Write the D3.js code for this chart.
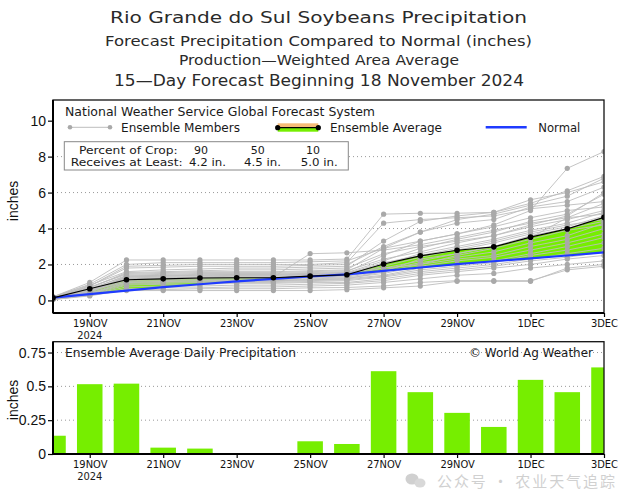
<!DOCTYPE html>
<html><head><meta charset="utf-8">
<script src="https://cdn.jsdelivr.net/npm/d3@7"></script>
<style>body{margin:0;background:#fff}</style>
</head><body>
<svg id="c" width="635" height="491" xmlns="http://www.w3.org/2000/svg"></svg>
<script>
// ---------------- DATA ----------------
const days = ["2024-11-18","2024-11-19","2024-11-20","2024-11-21","2024-11-22","2024-11-23","2024-11-24","2024-11-25",
  "2024-11-26","2024-11-27","2024-11-28","2024-11-29","2024-11-30","2024-12-01","2024-12-02","2024-12-03"];
const ensembleAvg = [0.14,0.65,1.15,1.20,1.25,1.26,1.26,1.35,1.43,2.03,2.48,2.79,2.98,3.52,3.98,4.62];
const normal = [0.15,0.35,0.55,0.74,0.90,1.06,1.20,1.33,1.45,1.64,1.83,2.02,2.18,2.34,2.50,2.67];
const dailyAvg = [0.135,0.516,0.52,0.047,0.04,0.005,0.005,0.094,0.074,0.612,0.457,0.304,0.20,0.548,0.457,0.64];
const members = [
  [0.20,1.00,2.25,2.25,2.25,2.25,2.25,2.25,2.30,4.80,4.85,4.85,4.90,5.40,6.10,6.90],
  [0.20,0.90,2.00,2.10,2.10,2.10,2.10,2.15,2.20,2.90,3.30,3.70,4.20,5.00,7.35,8.28],
  [0.15,0.80,1.90,1.95,2.00,2.00,2.00,2.00,2.10,4.30,4.50,4.60,4.70,5.10,5.30,5.50],
  [0.20,0.85,1.60,1.70,1.75,1.80,1.80,1.85,1.90,3.30,4.40,4.70,4.90,5.60,6.00,6.60],
  [0.15,0.70,1.50,1.55,1.60,1.60,1.60,1.65,1.70,2.90,3.80,4.30,4.50,5.20,5.50,6.30],
  [0.10,0.60,1.40,1.45,1.50,1.50,1.50,1.55,1.60,2.50,3.30,3.70,4.10,4.60,5.00,5.20],
  [0.15,0.65,1.35,1.40,1.40,1.45,1.45,1.50,1.55,2.20,2.90,3.40,3.80,4.40,4.80,5.90],
  [0.10,0.55,1.30,1.35,1.40,1.40,1.40,1.45,1.50,2.00,2.60,3.00,3.40,3.90,4.30,4.90],
  [0.12,0.50,1.25,1.30,1.30,1.35,1.35,1.40,1.45,1.90,2.40,2.80,3.20,3.70,4.10,4.70],
  [0.12,0.60,1.20,1.25,1.30,1.30,1.30,1.35,1.40,1.80,2.20,2.60,3.00,3.50,4.60,5.40],
  [0.10,0.45,1.15,1.20,1.25,1.25,1.25,1.30,1.35,1.70,2.10,2.40,2.70,3.20,3.60,4.30],
  [0.10,0.50,1.10,1.15,1.20,1.20,1.20,1.25,1.30,1.60,2.00,2.30,2.50,3.00,3.40,4.00],
  [0.10,0.40,1.05,1.10,1.15,1.15,1.15,1.20,1.25,1.50,1.90,2.20,2.40,2.80,3.20,3.70],
  [0.08,0.35,1.00,1.05,1.10,1.10,1.10,1.15,1.20,1.40,1.80,2.00,2.20,2.60,3.00,3.50],
  [0.08,0.40,0.95,1.00,1.05,1.05,1.05,1.10,1.15,1.35,1.70,1.90,2.10,2.50,2.80,3.20],
  [0.10,0.35,0.90,0.95,1.00,1.00,1.00,1.05,1.10,1.30,1.60,1.80,2.00,2.30,2.60,2.90],
  [0.08,0.30,0.85,0.90,0.90,0.95,0.95,1.00,1.00,1.20,1.50,1.70,1.90,2.20,2.40,2.70],
  [0.06,0.30,0.75,0.80,0.80,0.85,0.85,0.90,0.95,1.10,1.40,1.60,1.80,2.00,2.30,2.50],
  [0.06,0.28,0.65,0.70,0.70,0.75,0.75,0.80,0.85,1.00,1.20,1.40,1.50,1.80,2.00,2.20],
  [0.05,0.25,0.60,0.60,0.65,0.65,0.65,0.70,0.72,0.80,1.00,1.10,1.10,1.10,1.70,1.90],
  [0.05,0.30,0.55,0.55,0.55,0.55,0.55,0.55,0.60,0.70,0.80,1.06,1.06,1.06,1.80,2.00],
  [0.15,0.70,1.55,1.60,1.65,1.70,1.70,1.75,1.80,2.60,3.00,3.30,3.60,4.10,4.50,5.00],
  [0.12,0.55,1.20,1.25,1.25,1.30,1.30,2.60,2.65,2.80,3.10,3.50,3.90,4.30,4.60,4.80],
  [0.15,0.75,1.45,1.50,1.55,1.55,1.55,1.60,1.65,2.30,2.70,3.20,3.60,4.20,4.70,6.00],
  [0.10,0.50,1.30,1.35,1.35,1.40,1.40,1.45,1.50,2.10,2.50,2.90,3.30,3.80,4.20,4.50],
  [0.12,0.60,1.00,1.05,1.10,1.10,1.10,1.15,1.20,1.60,2.30,2.60,3.00,3.60,4.00,4.40],
  [0.10,0.45,1.35,1.40,1.45,1.45,1.45,1.50,1.55,1.80,2.00,2.50,2.90,3.40,3.90,4.20],
  [0.15,0.80,1.80,1.85,1.90,1.90,1.90,1.95,2.00,3.00,3.80,4.50,4.80,5.30,5.80,6.80]
];
const tickDates = ["2024-11-19","2024-11-21","2024-11-23","2024-11-25","2024-11-27","2024-11-29","2024-12-01","2024-12-03"];
const tickLabels = ["19NOV","21NOV","23NOV","25NOV","27NOV","29NOV","1DEC","3DEC"];
const yearLabel = "2024";
const topYTicks = [0,2,4,6,8,10];
const topGrid = [0,2,4,6,8];
const botYTicks = [0,0.25,0.5,0.75];
const botYLabels = ["0","0.25","0.5","0.75"];
const titles = ["Rio Grande do Sul Soybeans Precipitation",
  "Forecast Precipitation Compared to Normal (inches)",
  "Production\u2014Weighted Area Average",
  "15\u2014Day Forecast Beginning 18 November 2024"];
const cropPct = ["90","50","10"];
const cropAmt = ["4.2 in.","4.5 in.","5.0 in."];

// ---------------- SETUP ----------------
const parse = d3.timeParse("%Y-%m-%d");
const dts = days.map(parse);
const tds = tickDates.map(parse);
const svg = d3.select("#c");
const GREEN = "#76EE00", ORANGE = "#F6BC78", BLUE = "#1F3BFF", MEMB = "#bdbdbd", MDOT = "#a9a9a9";
const SANS = "DejaVu Sans, sans-serif";
const NARROW = "Liberation Sans Narrow, DejaVu Sans Condensed, sans-serif";
const L = 53, R = 604;

function txt(x, y, s, size, opt = {}) {
  const t = svg.append("text").attr("x", x).attr("y", y).text(s)
    .attr("font-family", opt.family || SANS).attr("font-size", size)
    .attr("fill", opt.fill || "#1a1a1a").attr("text-anchor", opt.anchor || "start");
  if (opt.width) t.attr("textLength", opt.width).attr("lengthAdjust", "spacingAndGlyphs");
  return t;
}

// titles
const tw = [417, 427, 280, 410], tx = [110, 105, 179, 114], ty = [23, 46, 65, 86], ts = [16, 14.5, 14.5, 16];
titles.forEach((s, i) => txt(tx[i], ty[i], s, ts[i], {width: tw[i], fill: "#2a2a2a"}));

const x = d3.scaleTime().domain([dts[0], dts[dts.length - 1]]).range([L, R]);
const dayW = x(dts[1]) - x(dts[0]);

// ---------------- TOP CHART ----------------
const T0 = 100, T1 = 313;
const y = d3.scaleLinear().domain([-0.7, 11.15]).range([T1, T0]);

svg.append("defs").html(`
 <clipPath id="topclip"><rect x="${L}" y="${T0}" width="${R-L}" height="${T1-T0}"/></clipPath>
 <clipPath id="botclip"><rect x="${L}" y="341.7" width="${R-L}" height="${454-341.7}"/></clipPath>`);

const gTop = svg.append("g").attr("clip-path", "url(#topclip)");
gTop.selectAll("line.grid").data(topGrid).join("line")
  .attr("x1", L).attr("x2", R).attr("y1", d => y(d)).attr("y2", d => y(d))
  .attr("stroke", "#999").attr("stroke-width", 1).attr("stroke-dasharray", "1,3");

// fill between normal and avg
const idx = d3.range(days.length);
const between = d3.area().x(i => x(dts[i])).y0(i => y(normal[i])).y1(i => y(ensembleAvg[i]));
const aboveN = d3.area().x(i => x(dts[i])).y0(i => y(normal[i])).y1(T0 - 5);
const belowN = d3.area().x(i => x(dts[i])).y0(i => y(normal[i])).y1(T1 + 5);
const defs = svg.select("defs");
defs.append("clipPath").attr("id", "aboveN").append("path").attr("d", aboveN(idx));
defs.append("clipPath").attr("id", "belowN").append("path").attr("d", belowN(idx));
gTop.append("path").attr("d", between(idx)).attr("fill", GREEN).attr("clip-path", "url(#aboveN)");
gTop.append("path").attr("d", between(idx)).attr("fill", ORANGE).attr("clip-path", "url(#belowN)");

// members
const line = d3.line().x((d, i) => x(dts[i])).y(d => y(d));
gTop.selectAll("path.mem").data(members).join("path").attr("class", "mem")
  .attr("d", line).attr("fill", "none").attr("stroke", MEMB).attr("stroke-width", 0.9);
members.forEach(m => {
  gTop.append("g").selectAll("circle").data(m).join("circle")
    .attr("cx", (d, i) => x(dts[i])).attr("cy", d => y(d)).attr("r", 2.6).attr("fill", MDOT);
});
// normal
gTop.append("path").attr("d", line(normal)).attr("fill", "none").attr("stroke", BLUE).attr("stroke-width", 2.2);
// average
gTop.append("path").attr("d", line(ensembleAvg)).attr("fill", "none").attr("stroke", "#000").attr("stroke-width", 1.1);
gTop.selectAll("circle.avg").data(ensembleAvg).join("circle").attr("class", "avg")
  .attr("cx", (d, i) => x(dts[i])).attr("cy", d => y(d)).attr("r", 2.8).attr("fill", "#000");

// frame + axes
function frame(top, bottom) {
  svg.append("rect").attr("x", L).attr("y", top).attr("width", R - L).attr("height", bottom - top)
    .attr("fill", "none").attr("stroke", "#111").attr("stroke-width", 1.3);
  svg.append("line").attr("x1", L).attr("x2", L).attr("y1", top).attr("y2", bottom).attr("stroke", "#000").attr("stroke-width", 2);
  svg.append("line").attr("x1", L).attr("x2", R).attr("y1", bottom).attr("y2", bottom).attr("stroke", "#000").attr("stroke-width", 2);
}
frame(T0, T1);

function yAxis(scale, ticks, labels) {
  const ax = d3.axisLeft(scale).tickValues(ticks).tickSize(5).tickPadding(2)
    .tickFormat((d, i) => labels ? labels[i] : d);
  const g = svg.append("g").attr("transform", `translate(${L},0)`).call(ax);
  g.select(".domain").remove();
  g.selectAll("line").attr("stroke", "#000").attr("stroke-width", 1.2);
  g.selectAll("text").attr("font-family", "Liberation Sans, Arial, sans-serif").attr("font-size", 14).attr("fill", "#111");
}
function xAxis(bottom) {
  const ax = d3.axisBottom(x).tickValues(tds).tickSize(4).tickPadding(3).tickFormat((d, i) => tickLabels[i]);
  const g = svg.append("g").attr("transform", `translate(0,${bottom})`).call(ax);
  g.select(".domain").remove();
  g.selectAll("line").attr("stroke", "#000").attr("stroke-width", 1.2);
  g.selectAll("text").attr("font-family", NARROW).attr("font-size", 11).attr("fill", "#111").attr("dy", "0.62em");
  txt(x(tds[0]), bottom + 25.5, yearLabel, 11, {anchor: "middle", family: NARROW});
}
yAxis(y, topYTicks);
xAxis(T1);
svg.append("text").attr("transform", "translate(18,201) rotate(-90)").attr("text-anchor", "middle")
  .attr("font-family", "Liberation Sans, Arial, sans-serif").attr("font-size", 14).attr("fill", "#111").text("inches");

// legend
txt(65, 116, "National Weather Service Global Forecast System", 12.5, {width: 310});
svg.append("line").attr("x1", 70).attr("x2", 110).attr("y1", 127.3).attr("y2", 127.3).attr("stroke", MEMB).attr("stroke-width", 1);
[70, 110].forEach(cx => svg.append("circle").attr("cx", cx).attr("cy", 127.3).attr("r", 2.3).attr("fill", MDOT));
txt(121, 132, "Ensemble Members", 12.5, {width: 119});
svg.append("rect").attr("x", 277.7).attr("y", 123.3).attr("width", 40.6).attr("height", 4.3).attr("fill", ORANGE);
svg.append("rect").attr("x", 277.7).attr("y", 127.7).attr("width", 40.6).attr("height", 4).attr("fill", GREEN);
svg.append("line").attr("x1", 277.7).attr("x2", 318.3).attr("y1", 127.7).attr("y2", 127.7).attr("stroke", "#000").attr("stroke-width", 1.2);
[277.7, 318.3].forEach(cx => svg.append("circle").attr("cx", cx).attr("cy", 127.7).attr("r", 2.6).attr("fill", "#000"));
txt(330, 132, "Ensemble Average", 12.5, {width: 112});
svg.append("line").attr("x1", 485.7).attr("x2", 526.7).attr("y1", 127.3).attr("y2", 127.3).attr("stroke", BLUE).attr("stroke-width", 2.5);
txt(538.3, 132, "Normal", 12.5, {width: 42});

svg.append("rect").attr("x", 64.3).attr("y", 141.7).attr("width", 284).attr("height", 28.3)
  .attr("fill", "#fff").attr("stroke", "#888").attr("stroke-width", 1);
txt(79, 154, "Percent of Crop:", 11, {width: 98.7});
txt(70.7, 166, "Receives at Least:", 11, {width: 112});
const pctX = [201, 257.7, 313], amtX = [189, 244, 300.7];
cropPct.forEach((s, i) => txt(pctX[i], 154, s, 11, {anchor: "middle"}));
cropAmt.forEach((s, i) => txt(amtX[i], 166, s, 11, {width: 37}));

// ---------------- BOTTOM CHART ----------------
const B0 = 341.7, B1 = 454;
const yb = d3.scaleLinear().domain([0, 0.83]).range([B1, B0]);
const gBot = svg.append("g").attr("clip-path", "url(#botclip)");
gBot.selectAll("line.grid").data(botYTicks.slice(1)).join("line")
  .attr("x1", L).attr("x2", R).attr("y1", d => yb(d)).attr("y2", d => yb(d))
  .attr("stroke", "#999").attr("stroke-width", 1).attr("stroke-dasharray", "1,3");
const bw = 0.695 * dayW;
gBot.selectAll("rect.bar").data(dailyAvg).join("rect").attr("class", "bar")
  .attr("x", (d, i) => x(dts[i]) - bw / 2).attr("width", bw)
  .attr("y", d => yb(d)).attr("height", d => B1 - yb(d)).attr("fill", GREEN);
frame(B0, B1);
yAxis(yb, botYTicks, botYLabels);
xAxis(B1);
svg.append("text").attr("transform", "translate(18,400) rotate(-90)").attr("text-anchor", "middle")
  .attr("font-family", "Liberation Sans, Arial, sans-serif").attr("font-size", 14).attr("fill", "#111").text("inches");
txt(65, 356.5, "Ensemble Average Daily Precipitation", 12.5, {width: 231});
txt(469, 356.5, "\u00A9 World Ag Weather", 12.5, {width: 124});

// watermark (kept clear of the tick labels)
const wm = svg.append("g").attr("opacity", 0.45);
wm.append("ellipse").attr("cx", 412).attr("cy", 479).attr("rx", 6.5).attr("ry", 5.5).attr("fill", "#999");
wm.append("ellipse").attr("cx", 420).attr("cy", 483).attr("rx", 5.5).attr("ry", 4.5).attr("fill", "#aaa");
wm.append("text").attr("x", 437).attr("y", 487).attr("font-family", "Noto Sans CJK SC, sans-serif")
  .attr("font-size", 15).attr("fill", "#999").attr("textLength", 178).text("公众号 · 农业天气追踪");
</script>
</body></html>
